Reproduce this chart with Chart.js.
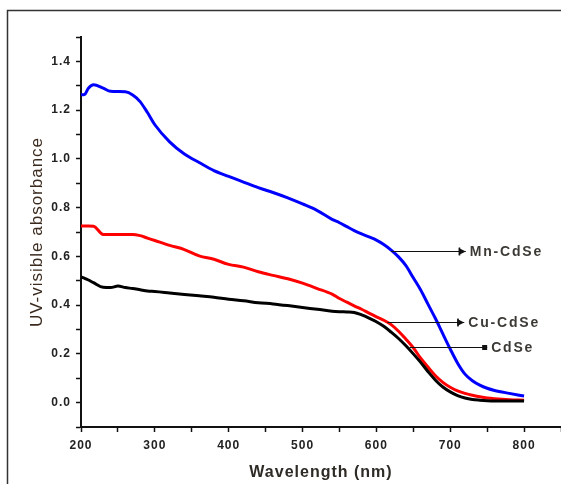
<!DOCTYPE html>
<html>
<head>
<meta charset="utf-8">
<script src="https://cdn.jsdelivr.net/npm/chart.js@4/dist/chart.umd.min.js"></script>
<style>
html,body{margin:0;padding:0;background:#fff;}
#wrap{width:561px;height:484px;position:relative;}
</style>
</head>
<body>
<div id="wrap"><canvas id="c" width="561" height="484"></canvas></div>
<script>
const wavelength = [200,205,210,217,230,240,250,260,270,280,290,300,320,340,360,380,400,420,440,460,480,500,520,540,550,560,570,580,590,600,610,620,630,640,650,660,670,680,690,700,710,720,730,740,750,760,780,800];
const mnCdSe = [1.263,1.265,1.29,1.304,1.29,1.277,1.276,1.275,1.262,1.235,1.19,1.14,1.07,1.02,0.985,0.952,0.928,0.905,0.882,0.862,0.84,0.815,0.788,0.752,0.738,0.722,0.706,0.692,0.68,0.667,0.649,0.626,0.598,0.562,0.512,0.462,0.403,0.345,0.282,0.22,0.162,0.117,0.09,0.072,0.059,0.05,0.038,0.027];
const cuCdSe = [0.725,0.725,0.725,0.724,0.69,0.69,0.69,0.69,0.69,0.685,0.675,0.665,0.645,0.628,0.602,0.588,0.567,0.556,0.537,0.522,0.508,0.49,0.468,0.445,0.427,0.412,0.397,0.383,0.367,0.352,0.338,0.32,0.293,0.26,0.225,0.182,0.145,0.11,0.083,0.063,0.048,0.038,0.03,0.024,0.019,0.016,0.012,0.01];
const cdSe = [0.516,0.51,0.503,0.492,0.473,0.472,0.478,0.472,0.468,0.463,0.458,0.456,0.45,0.444,0.438,0.432,0.424,0.418,0.41,0.405,0.398,0.39,0.383,0.375,0.373,0.372,0.37,0.36,0.347,0.332,0.313,0.289,0.263,0.233,0.2,0.165,0.127,0.092,0.064,0.044,0.029,0.019,0.013,0.01,0.008,0.007,0.007,0.007];
const xTickLabels = [200,300,400,500,600,700,800];
const yTickLabels = [0.0,0.2,0.4,0.6,0.8,1.0,1.2,1.4];
const seriesNames = ['Mn-CdSe','Cu-CdSe','CdSe'];
// callout anchors (data coords)
const calloutStartX = [620,615,645];
const calloutEndX = [721,719,750];
const calloutY = [0.622,0.329,0.227];

function pts(arr){ return wavelength.map((w,i)=>({x:w,y:arr[i]})); }

const framePlugin = {
  id:'frame',
  beforeDraw(chart){
    const ctx = chart.ctx;
    ctx.save();
    ctx.fillStyle = '#fff';
    ctx.fillRect(0,0,chart.width,chart.height);
    ctx.strokeStyle = '#333';
    ctx.lineWidth = 1.5;
    ctx.beginPath();
    ctx.moveTo(7.5, chart.height+2);
    ctx.lineTo(7.5, 10.5);
    ctx.lineTo(chart.width+2, 10.5);
    ctx.stroke();
    ctx.restore();
    ctx.letterSpacing = '1px';
  },
  afterDraw(chart){ chart.ctx.letterSpacing = '0px'; }
};

const calloutPlugin = {
  id:'callouts',
  afterDatasetsDraw(chart){
    const ctx = chart.ctx, xs = chart.scales.x, ys = chart.scales.y;
    ctx.save();
    for(let i=0;i<seriesNames.length;i++){
      const x0 = xs.getPixelForValue(calloutStartX[i]);
      const x1 = xs.getPixelForValue(calloutEndX[i]);
      const y = Math.round(ys.getPixelForValue(calloutY[i]))+0.5;
      ctx.strokeStyle = '#111';
      ctx.lineWidth = 1.2;
      ctx.beginPath(); ctx.moveTo(x0,y); ctx.lineTo(x1,y); ctx.stroke();
      ctx.fillStyle = '#111';
      if(i<2){
        ctx.beginPath(); ctx.moveTo(x1-7,y-3.5); ctx.lineTo(x1,y); ctx.lineTo(x1-7,y+3.5); ctx.closePath(); ctx.fill();
        ctx.fillRect(x1-7,y-4,1.5,8);
      } else {
        ctx.fillRect(x1-5,y-2.5,5,5);
      }
      ctx.font = 'bold 14px "Liberation Sans", Arial, sans-serif';
      ctx.letterSpacing = '1.8px';
      ctx.fillStyle = '#3d3a36';
      ctx.textBaseline = 'middle';
      ctx.textAlign = 'left';
      ctx.fillText(seriesNames[i], x1+4, y+1);
    }
    ctx.restore();
  }
};

const colors = ['#0000ff','#ff0000','#000000'];
const seriesData = [mnCdSe, cuCdSe, cdSe];

new Chart(document.getElementById('c'), {
  type:'line',
  data:{
    datasets: seriesData.map((d,i)=>({
      label: seriesNames[i],
      data: pts(d),
      borderColor: colors[i],
      backgroundColor: colors[i],
      borderWidth: 3,
      pointRadius: 0,
      cubicInterpolationMode: 'monotone',
      fill: false
    })).reverse()
  },
  options:{
    responsive:false,
    animation:false,
    devicePixelRatio:1,
    layout:{padding:{top:37,right:0,bottom:0,left:0}},
    plugins:{legend:{display:false},tooltip:{enabled:false}},
    scales:{
      x:{
        type:'linear',
        min:200,max:850,
        afterFit(s){ s.height = 57; s.paddingRight = 0; s.paddingLeft = 0; },
        ticks:{
          stepSize:50,
          autoSkip:false,
          maxRotation:0,
          padding:6,
          color:'#222',
          font:{family:'"Liberation Sans", Arial, sans-serif',size:12,weight:'bold'},
          callback(v){ return xTickLabels.includes(Math.round(v)) ? String(Math.round(v)) : ''; }
        },
        grid:{display:true,drawOnChartArea:false,drawTicks:true,tickLength:5,tickWidth:1.5,tickColor:'#111'},
        border:{display:true,color:'#111',width:2},
        title:{display:true,text:'Wavelength (nm)',color:'#2e2a26',
          font:{family:'"Liberation Sans", Arial, sans-serif',size:16,weight:'bold'},
          padding:{top:0,bottom:2}}
      },
      y:{
        type:'linear',
        min:-0.1,max:1.5,
        afterFit(s){ s.width = 81; s.paddingTop = 0; s.paddingBottom = 0; },
        ticks:{
          stepSize:0.1,
          autoSkip:false,
          padding:5,
          color:'#222',
          font:{family:'"Liberation Sans", Arial, sans-serif',size:12,weight:'bold'},
          callback(v){
            const t = Math.round(v*10);
            return (t>=0 && t<=14 && t%2===0) ? (t/10).toFixed(1) : '';
          }
        },
        grid:{display:true,drawOnChartArea:false,drawTicks:true,tickLength:5,tickWidth:1.5,tickColor:'#111'},
        border:{display:true,color:'#111',width:2},
        title:{display:true,text:'UV-visible absorbance',color:'#3b2a1e',
          font:{family:'"Liberation Sans", Arial, sans-serif',size:17},
          padding:{top:27,bottom:0}}
      }
    }
  },
  plugins:[framePlugin, calloutPlugin]
});
</script>
</body>
</html>
